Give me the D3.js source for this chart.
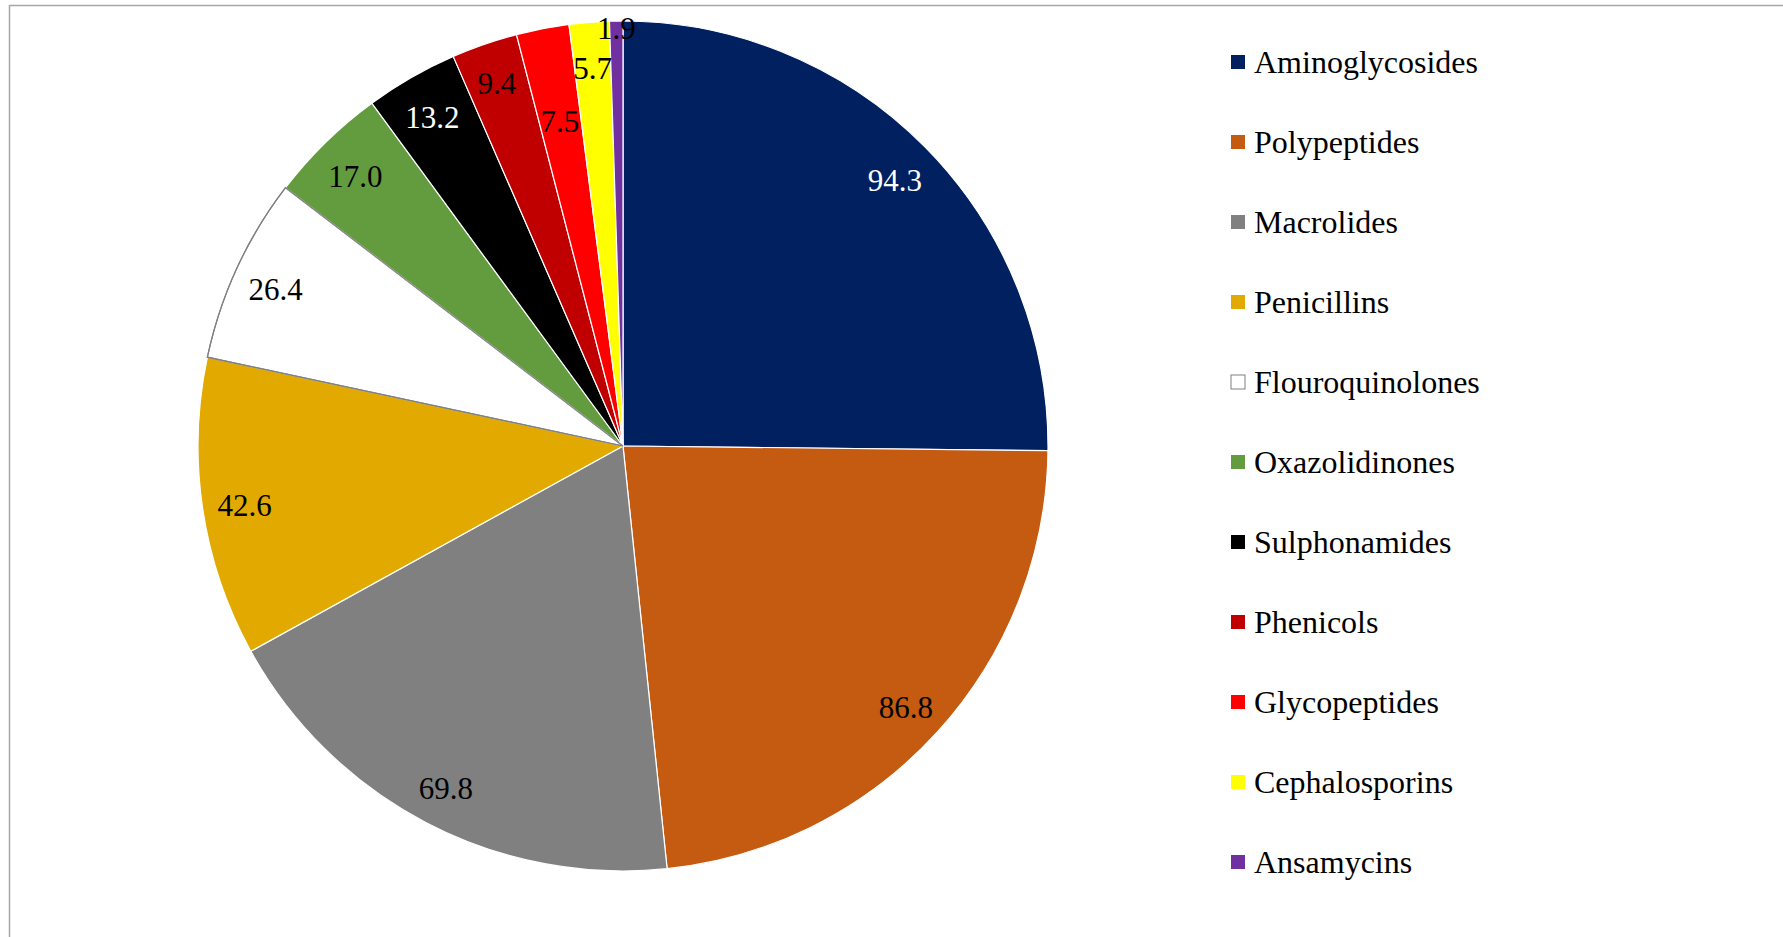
<!DOCTYPE html>
<html>
<head>
<meta charset="utf-8">
<script src="https://cdn.jsdelivr.net/npm/d3@7"></script>
<style>
html,body{margin:0;padding:0;background:#fff;}
svg{display:block;}
svg text{font-family:"Liberation Serif","Times New Roman",Times,serif;}
</style>
</head>
<body>
<svg id="chart" width="1783" height="937"></svg>
<script>
const categories = ["Aminoglycosides","Polypeptides","Macrolides","Penicillins","Flouroquinolones","Oxazolidinones","Sulphonamides","Phenicols","Glycopeptides","Cephalosporins","Ansamycins"];
const values = [94.3, 86.8, 69.8, 42.6, 26.4, 17.0, 13.2, 9.4, 7.5, 5.7, 1.9];
const colors = ["#002060","#C55A11","#808080","#E2AA00","#FFFFFF","#629C3E","#000000","#C00000","#FF0000","#FFFF00","#7030A0"];
const labelColors = ["#fff","#000","#000","#000","#000","#000","#fff","#000","#000","#000","#000"];

const W = 1783, H = 937;
const svg = d3.select("#chart");

// frame
svg.append("line").attr("x1",9).attr("x2",W).attr("y1",5.5).attr("y2",5.5).attr("stroke","#a6a6a6").attr("stroke-width",1.5);
svg.append("line").attr("x1",9.5).attr("x2",9.5).attr("y1",5).attr("y2",H).attr("stroke","#a6a6a6").attr("stroke-width",1.5);

const cx = 623, cy = 446, R = 425;
const data = categories.map((c,i)=>({name:c, value:values[i], color:colors[i], lc:labelColors[i]}));
const pie = d3.pie().value(d=>d.value).sort(null);
const arcs = pie(data);
const arc = d3.arc().innerRadius(0).outerRadius(R);

const g = svg.append("g").attr("transform",`translate(${cx},${cy})`);
g.selectAll("path.slice").data(arcs).enter().append("path")
  .attr("class","slice")
  .attr("d",arc)
  .attr("fill",d=>d.data.color)
  .attr("stroke",d=>d.data.color==="#FFFFFF" ? "#808080" : "#fff")
  .attr("stroke-width",1.2);
g.selectAll("path.wl").data(arcs.filter(d=>d.data.color==="#FFFFFF")).enter().append("path")
  .attr("d",arc).attr("fill","none").attr("stroke","#808080").attr("stroke-width",1.2);

// label radial adjustments (layout only)
const labelR = {"Glycopeptides":0.785, "Ansamycins":0.99, "Phenicols":0.91};
g.selectAll("text.lbl").data(arcs).enter().append("text")
  .attr("class","lbl")
  .attr("x",d=>{const a=(d.startAngle+d.endAngle)/2; return Math.sin(a)*R*(labelR[d.data.name]||0.9);})
  .attr("y",d=>{const a=(d.startAngle+d.endAngle)/2; return -Math.cos(a)*R*(labelR[d.data.name]||0.9);})
  .attr("dy","0.45em")
  .attr("text-anchor","middle")
  .attr("font-size",31)
  .attr("fill",d=>d.data.lc)
  .text(d=>d.data.value.toFixed(1));

// legend
const ly = d3.scalePoint().domain(categories).range([62,862]);
const lg = svg.append("g");
const items = lg.selectAll("g").data(data).enter().append("g")
  .attr("transform",d=>`translate(1231,${ly(d.name)})`);
items.append("rect").attr("x",0).attr("y",-7).attr("width",14).attr("height",14)
  .attr("fill",d=>d.color).attr("stroke",d=>d.color==="#FFFFFF"?"#808080":"none").attr("stroke-width",1);
items.append("text").attr("x",23).attr("y",0).attr("dy","0.35em")
  .attr("font-size",32).attr("fill","#000")
  .text(d=>d.name);
</script>
</body>
</html>
